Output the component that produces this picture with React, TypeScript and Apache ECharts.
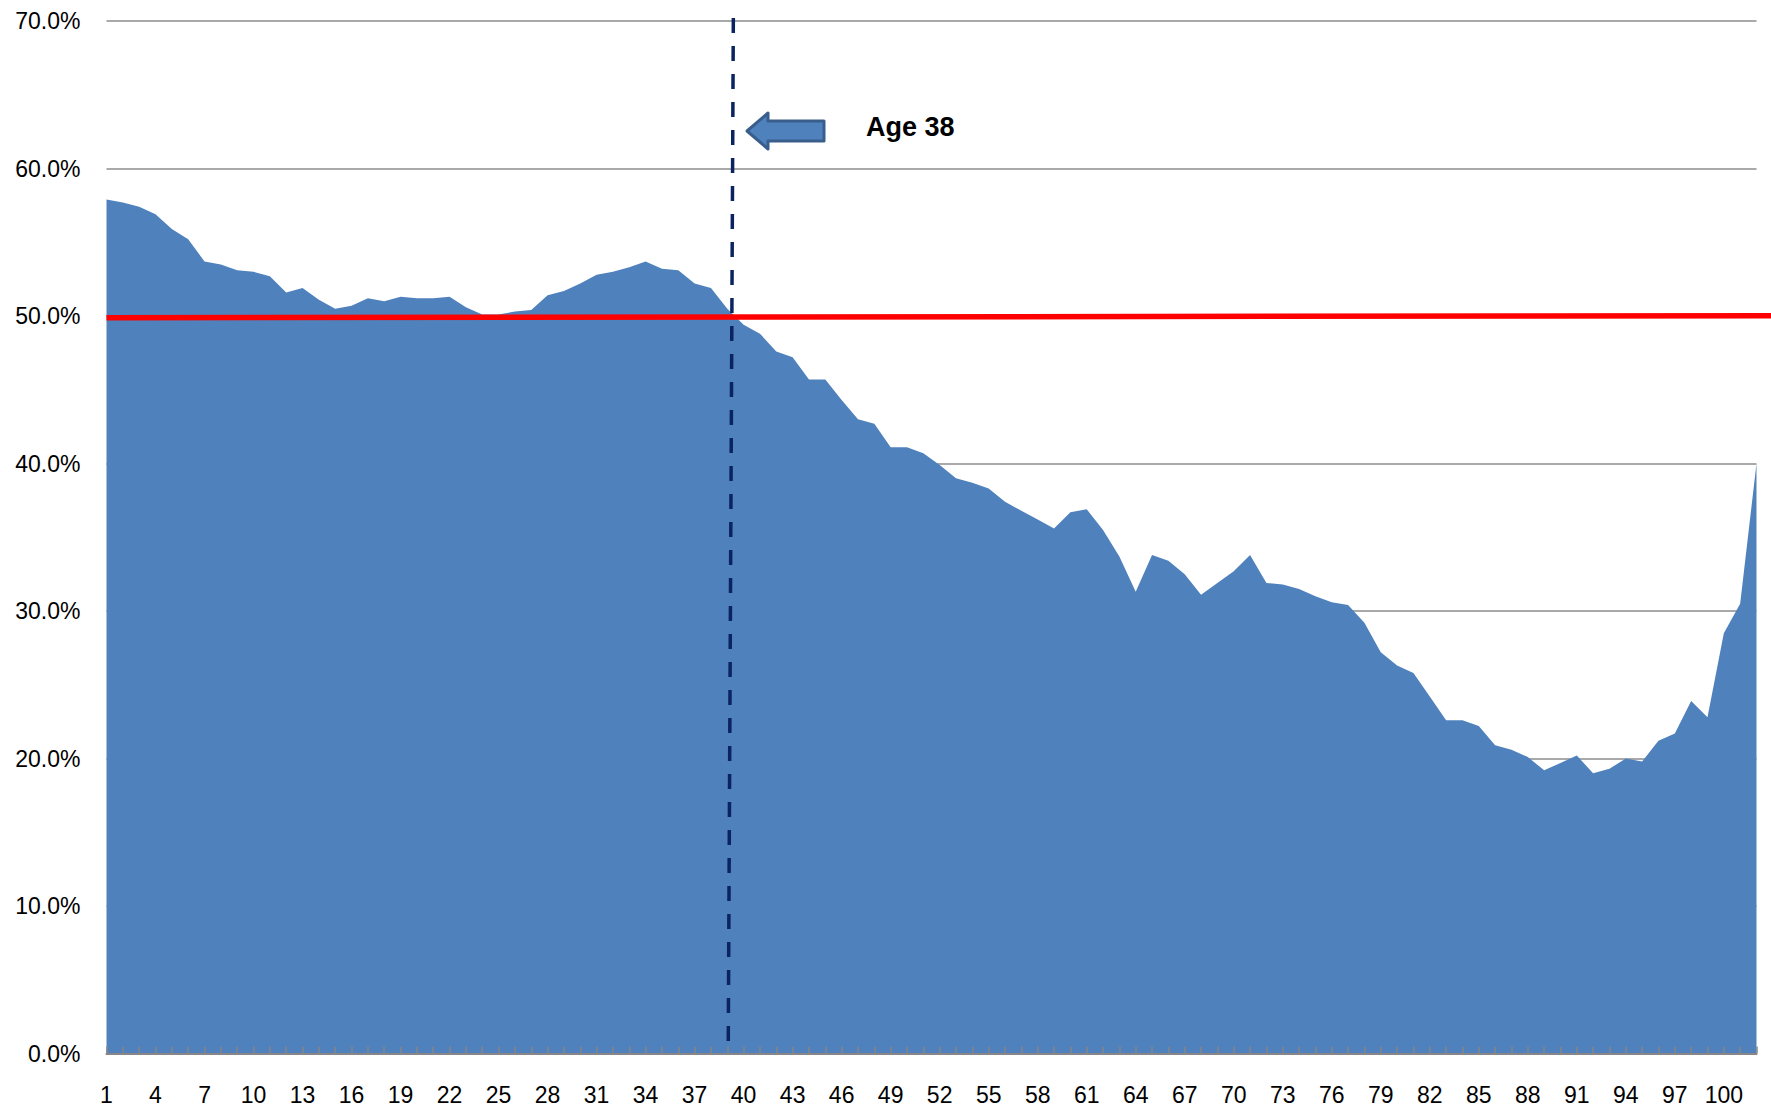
import React, { useEffect, useRef } from "react";
import * as echarts from "echarts";

const categories = [
  "1", "2", "3", "4", "5", "6", "7", "8", "9", "10",
  "11", "12", "13", "14", "15", "16", "17", "18", "19", "20",
  "21", "22", "23", "24", "25", "26", "27", "28", "29", "30",
  "31", "32", "33", "34", "35", "36", "37", "38", "39", "40",
  "41", "42", "43", "44", "45", "46", "47", "48", "49", "50",
  "51", "52", "53", "54", "55", "56", "57", "58", "59", "60",
  "61", "62", "63", "64", "65", "66", "67", "68", "69", "70",
  "71", "72", "73", "74", "75", "76", "77", "78", "79", "80",
  "81", "82", "83", "84", "85", "86", "87", "88", "89", "90",
  "91", "92", "93", "94", "95", "96", "97", "98", "99", "100",
  "101", "102",
];

const shares = [
  0.579, 0.577, 0.574, 0.569, 0.559, 0.552, 0.537, 0.535, 0.531, 0.53,
  0.527, 0.516, 0.519, 0.511, 0.505, 0.507, 0.512, 0.51, 0.513, 0.512,
  0.512, 0.513, 0.506, 0.501, 0.501, 0.503, 0.504, 0.514, 0.517, 0.522,
  0.528, 0.53, 0.533, 0.537, 0.532, 0.531, 0.522, 0.519, 0.505, 0.494,
  0.488, 0.476, 0.472, 0.457, 0.457, 0.443, 0.43, 0.427, 0.411, 0.411,
  0.407, 0.399, 0.39, 0.387, 0.383, 0.374, 0.368, 0.362, 0.356, 0.367,
  0.369, 0.355, 0.337, 0.313, 0.338, 0.334, 0.325, 0.311, 0.319, 0.327,
  0.338, 0.319, 0.318, 0.315, 0.31, 0.306, 0.304, 0.292, 0.272, 0.263,
  0.258, 0.242, 0.226, 0.226, 0.222, 0.209, 0.206, 0.201, 0.192, 0.197,
  0.202, 0.19, 0.193, 0.2, 0.198, 0.212, 0.217, 0.239, 0.228, 0.285,
  0.305, 0.4,
];

// red reference line at 50%, drawn across the plot and past its right edge
const thresholdLine = [
  [0, 0.4988],
  [102, 0.5002],
];
// dashed marker near age 38 (position on the category index scale)
const ageMarkerLine = [
  [38.37, 0.702],
  [38.06, 0.0083],
];
const annotationText = "Age 38";

const FONT = "'Liberation Sans', Arial, sans-serif";

export default function App() {
  const ref = useRef<HTMLDivElement>(null);

  useEffect(() => {
    const chart = echarts.init(ref.current!, null, { renderer: "svg" });
    chart.setOption({
      animation: false,
      backgroundColor: "#ffffff",
      grid: { left: 106.5, right: 14.5, top: 21, bottom: 55.5, containLabel: false },
      xAxis: [
        {
          type: "category",
          data: categories,
          boundaryGap: false,
          z: 3,
          axisLine: { show: true, lineStyle: { color: "#868686", width: 2 } },
          axisTick: {
            show: true,
            inside: true,
            length: 7,
            interval: 0,
            lineStyle: { color: "#868686", width: 1.5 },
          },
          axisLabel: {
            interval: 2,
            fontSize: 23,
            fontFamily: FONT,
            color: "#000000",
            margin: 30,
          },
          splitLine: { show: false },
        },
        {
          type: "value",
          min: 0,
          max: 101,
          show: false,
        },
      ],
      yAxis: {
        type: "value",
        min: 0,
        max: 0.7,
        interval: 0.1,
        axisLine: { show: false },
        axisTick: { show: false },
        axisLabel: {
          fontSize: 23,
          fontFamily: FONT,
          color: "#000000",
          margin: 26,
          formatter: (v: number) => (v * 100).toFixed(1) + "%",
        },
        splitLine: { show: true, lineStyle: { color: "#8c8c8c", width: 1.5 } },
      },
      series: [
        {
          type: "line",
          xAxisIndex: 0,
          data: shares,
          showSymbol: false,
          symbol: "none",
          lineStyle: { width: 0, color: "#4F81BD" },
          areaStyle: { color: "#4F81BD", opacity: 1 },
          z: 2,
        },
        {
          type: "line",
          xAxisIndex: 1,
          data: ageMarkerLine,
          showSymbol: false,
          symbol: "none",
          clip: false,
          lineStyle: { color: "#0B2461", width: 3.5, type: [15, 13] },
          z: 5,
        },
      ],
      graphic: [
        {
          type: "polygon",
          shape: {
            points: [
              [747, 131],
              [768, 113],
              [768, 121],
              [824, 121],
              [824, 141],
              [768, 141],
              [768, 149],
            ],
          },
          style: { fill: "#4F81BD", stroke: "#3A5E8C", lineWidth: 3, lineJoin: "round" },
          z: 10,
        },
        {
          type: "text",
          x: 866,
          y: 127,
          style: {
            text: annotationText,
            fontSize: 27,
            fontWeight: "bold",
            fontFamily: FONT,
            fill: "#000000",
            verticalAlign: "middle",
          },
          z: 10,
        },
      ],
    });

    // red 50% line: positioned through the axes' own scales, extends past the plot
    const x1 = chart.convertToPixel({ xAxisIndex: 1 }, thresholdLine[0][0]) as number;
    const x2 = chart.convertToPixel({ xAxisIndex: 1 }, thresholdLine[1][0]) as number;
    const y1 = chart.convertToPixel({ yAxisIndex: 0 }, thresholdLine[0][1]) as number;
    const y2 = chart.convertToPixel({ yAxisIndex: 0 }, thresholdLine[1][1]) as number;
    chart.setOption({
      graphic: [
        {
          id: "threshold",
          type: "line",
          shape: { x1, y1, x2, y2 },
          style: { stroke: "#FF0000", lineWidth: 5.5 },
          z: 4,
        },
      ],
    });

    return () => chart.dispose();
  }, []);

  return (
    <div
      ref={ref}
      style={{ position: "absolute", left: 0, top: 0, width: 1771, height: 1109, background: "#fff" }}
    />
  );
}
